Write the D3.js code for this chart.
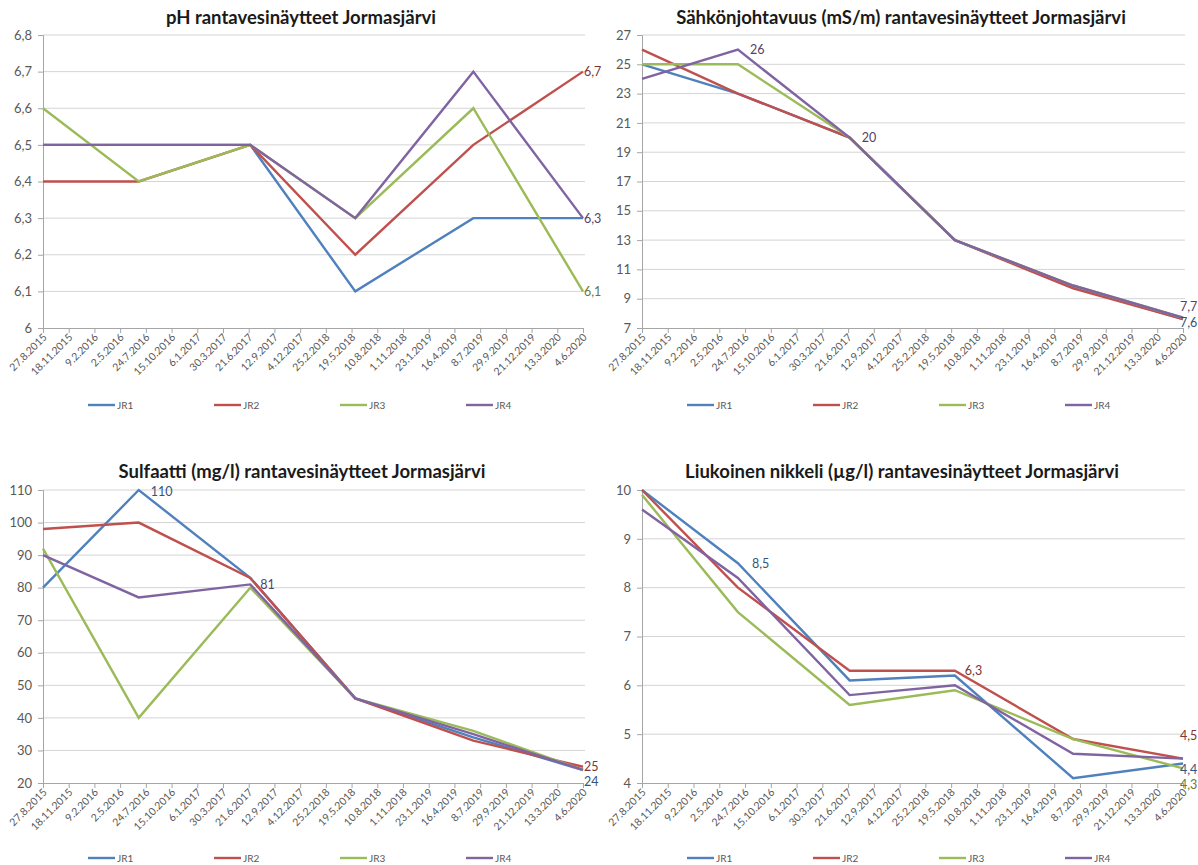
<!DOCTYPE html>
<html>
<head>
<meta charset="utf-8">
<script src="https://cdn.jsdelivr.net/npm/d3@7"></script>
<style>
  body { margin: 0; background: #fff; }
  svg { display: block; font-family: Lato, "Open Sans", sans-serif; }
</style>
</head>
<body>
<svg id="chart" width="1198" height="865"></svg>
<script>
// sampling dates and axis tick labels (d.m.yyyy)
var sampleDates = ["27.8.2015", "1.7.2016", "26.6.2017", "31.5.2018", "16.6.2019", "4.6.2020"];
var tickLabels = ["27.8.2015", "18.11.2015", "9.2.2016", "2.5.2016", "24.7.2016", "15.10.2016",
    "6.1.2017", "30.3.2017", "21.6.2017", "12.9.2017", "4.12.2017", "25.2.2018", "19.5.2018",
    "10.8.2018", "1.11.2018", "23.1.2019", "16.4.2019", "8.7.2019", "29.9.2019", "21.12.2019",
    "13.3.2020", "4.6.2020"];
var seriesNames = ["JR1", "JR2", "JR3", "JR4"];
var seriesColors = ["#4f81bd", "#c0504d", "#9bbb59", "#8064a2"];

// pH
var phValues = [
    [6.5, 6.5, 6.5, 6.1, 6.3, 6.3],
    [6.4, 6.4, 6.5, 6.2, 6.5, 6.7],
    [6.6, 6.4, 6.5, 6.3, 6.6, 6.1],
    [6.5, 6.5, 6.5, 6.3, 6.7, 6.3]
];
var phTicks = [6, 6.1, 6.2, 6.3, 6.4, 6.5, 6.6, 6.7, 6.8];

// conductivity mS/m
var condValues = [
    [25, 23, 20, 13, 9.8, 7.6],
    [26, 23, 20, 13, 9.7, 7.6],
    [25, 25, 20, 13, 9.9, 7.7],
    [24, 26, 20, 13, 9.9, 7.7]
];
var condTicks = [7, 9, 11, 13, 15, 17, 19, 21, 23, 25, 27];

// sulphate mg/l
var sulfValues = [
    [80, 110, 83, 46, 34, 24],
    [98, 100, 83, 46, 33, 25],
    [92, 40, 80, 46, 36, 24],
    [90, 77, 81, 46, 35, 24]
];
var sulfTicks = [20, 30, 40, 50, 60, 70, 80, 90, 100, 110];

// dissolved nickel ug/l
var niValues = [
    [10, 8.5, 6.1, 6.2, 4.1, 4.4],
    [10, 8.0, 6.3, 6.3, 4.9, 4.5],
    [9.9, 7.5, 5.6, 5.9, 4.9, 4.3],
    [9.6, 8.2, 5.8, 6.0, 4.6, 4.5]
];
var niTicks = [4, 5, 6, 7, 8, 9, 10];

function parseFi(s) {
    var p = s.split(".");
    return new Date(Date.UTC(+p[2], +p[1] - 1, +p[0]));
}
function fmt(v) {
    return String(v).replace(".", ",");
}

var svg = d3.select("#chart");

function drawChart(cfg) {
    var g = svg.append("g");
    var xScale = d3.scaleUtc()
        .domain([parseFi(tickLabels[0]), parseFi(tickLabels[tickLabels.length - 1])])
        .range([cfg.left, cfg.right]);
    var yScale = d3.scaleLinear()
        .domain([cfg.ticks[0], cfg.ticks[cfg.ticks.length - 1]])
        .range([cfg.bottom, cfg.top]);

    // title
    g.append("text")
        .attr("x", cfg.titleX).attr("y", cfg.top - cfg.titleGap)
        .attr("text-anchor", "middle")
        .attr("font-size", 18.5).attr("font-weight", "bold").attr("fill", "#1a1a1a")
        .text(cfg.title);

    // grid
    g.append("g").selectAll("line").data(cfg.ticks.slice(1)).enter().append("line")
        .attr("x1", cfg.left).attr("x2", cfg.right + 2)
        .attr("y1", function (d) { return yScale(d); })
        .attr("y2", function (d) { return yScale(d); })
        .attr("stroke", "#d4d4d4").attr("stroke-width", 1);

    // y axis
    var axisLeft = d3.axisLeft(yScale).tickValues(cfg.ticks).tickFormat(fmt).tickSize(5).tickPadding(6);
    var ya = g.append("g").attr("transform", "translate(" + cfg.left + ",0)").call(axisLeft);
    ya.select(".domain").attr("stroke", "#a6a6a6");
    ya.selectAll(".tick line").attr("stroke", "#a6a6a6");
    ya.selectAll("text").attr("font-size", 13).attr("fill", "#595959")
        .attr("font-family", "Lato, sans-serif");

    // x axis
    var axisBottom = d3.axisBottom(xScale).tickValues(tickLabels.map(parseFi))
        .tickFormat(function (d, i) { return tickLabels[i]; }).tickSize(5).tickSizeOuter(0);
    var xa = g.append("g").attr("transform", "translate(0," + cfg.bottom + ")").call(axisBottom);
    xa.select(".domain").attr("stroke", "#a6a6a6");
    xa.selectAll(".tick line").attr("stroke", "#a6a6a6");
    xa.selectAll("text")
        .attr("font-size", 10.5).attr("fill", "#595959").attr("font-family", "Lato, sans-serif")
        .attr("text-anchor", "end")
        .attr("dy", null).attr("y", 0)
        .attr("transform", "translate(4,10) rotate(-45)");

    // lines
    var line = d3.line()
        .x(function (d, i) { return xScale(parseFi(sampleDates[i])); })
        .y(function (d) { return yScale(d); });
    g.append("g").selectAll("path").data(cfg.values).enter().append("path")
        .attr("d", function (d) { return line(d); })
        .attr("fill", "none")
        .attr("stroke", function (d, i) { return seriesColors[i]; })
        .attr("stroke-width", 2.4)
        .attr("stroke-linejoin", "miter");

    // data labels
    g.append("g").selectAll("text").data(cfg.labels).enter().append("text")
        .attr("x", function (d) { return xScale(parseFi(sampleDates[d.i])) + d.dx; })
        .attr("y", function (d) { return yScale(cfg.values[d.s][d.i]) + d.dy; })
        .attr("dy", "0.35em")
        .attr("font-size", 12.5)
        .attr("fill", function (d) { return d3.color(seriesColors[d.s]).darker(1.2); })
        .text(function (d) { return fmt(cfg.values[d.s][d.i]); });

    // legend
    var lg = g.append("g").selectAll("g").data(seriesNames).enter().append("g")
        .attr("transform", function (d, i) { return "translate(" + (cfg.left + 45 + i * 126) + "," + cfg.legendY + ")"; });
    lg.append("line").attr("x1", 0).attr("x2", 27).attr("y1", 0).attr("y2", 0)
        .attr("stroke", function (d, i) { return seriesColors[i]; }).attr("stroke-width", 2.4);
    lg.append("text").attr("x", 29).attr("dy", "0.35em")
        .attr("font-size", 10).attr("fill", "#595959").text(function (d) { return d; });
}

drawChart({
    title: "pH rantavesinäytteet Jormasjärvi", titleX: 301, titleGap: 11,
    left: 43, right: 583, top: 35, bottom: 328, legendY: 405,
    values: phValues, ticks: phTicks,
    labels: [{ s: 1, i: 5, dx: 1, dy: 0 }, { s: 3, i: 5, dx: 1, dy: 0 }, { s: 2, i: 5, dx: 1, dy: 0 }]
});
drawChart({
    title: "Sähkönjohtavuus (mS/m) rantavesinäytteet Jormasjärvi", titleX: 901, titleGap: 11,
    left: 642, right: 1183, top: 35, bottom: 328, legendY: 405,
    values: condValues, ticks: condTicks,
    labels: [{ s: 3, i: 1, dx: 12, dy: 0 }, { s: 3, i: 2, dx: 12, dy: 0 },
        { s: 3, i: 5, dx: -3, dy: -11 }, { s: 0, i: 5, dx: -3, dy: 3 }]
});
drawChart({
    title: "Sulfaatti (mg/l) rantavesinäytteet Jormasjärvi", titleX: 302, titleGap: 12,
    left: 43, right: 583, top: 490, bottom: 783, legendY: 858,
    values: sulfValues, ticks: sulfTicks,
    labels: [{ s: 0, i: 1, dx: 12, dy: 2 }, { s: 3, i: 2, dx: 10, dy: 0 },
        { s: 1, i: 5, dx: 1, dy: 0 }, { s: 0, i: 5, dx: 1, dy: 12 }]
});
drawChart({
    title: "Liukoinen nikkeli (µg/l) rantavesinäytteet Jormasjärvi", titleX: 902, titleGap: 12,
    left: 642, right: 1183, top: 490, bottom: 783, legendY: 858,
    values: niValues, ticks: niTicks,
    labels: [{ s: 0, i: 1, dx: 14, dy: 0 }, { s: 1, i: 3, dx: 10, dy: 0 },
        { s: 1, i: 5, dx: -3, dy: -23 }, { s: 0, i: 5, dx: -3, dy: 6 }, { s: 2, i: 5, dx: -3, dy: 16 }]
});
</script>
</body>
</html>
